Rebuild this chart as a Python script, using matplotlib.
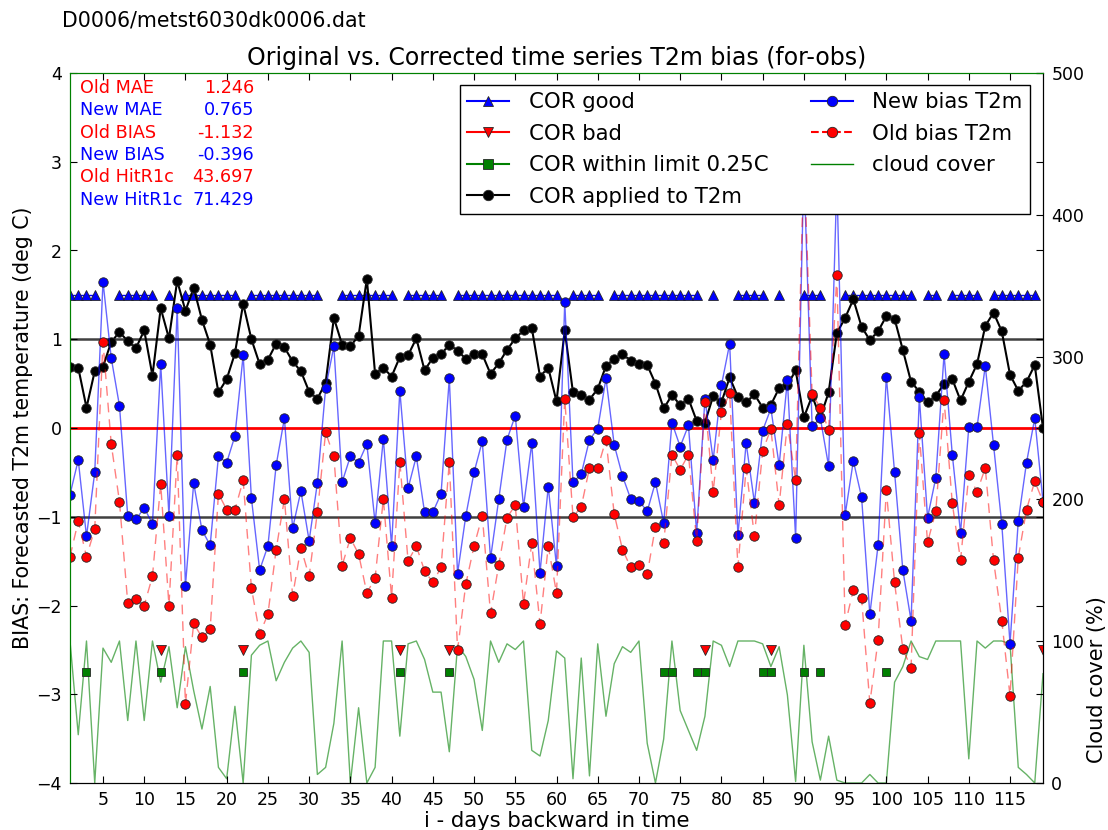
import numpy as np
import matplotlib
matplotlib.use('Agg')
import matplotlib.pyplot as plt
from matplotlib.lines import Line2D

# ---------------- data ----------------
days = list(range(1, 120))

cor_applied = [0.69, 0.68, 0.23, 0.64, 0.69, 0.97, 1.08, 0.98, 0.90, 1.10,
               0.59, 1.35, 1.01, 1.66, 1.32, 1.58, 1.22, 0.94, 0.40, 0.55,
               0.84, 1.40, 1.00, 0.72, 0.77, 0.95, 0.91, 0.75, 0.64, 0.41,
               0.33, 0.51, 1.24, 0.94, 0.92, 1.04, 1.68, 0.61, 0.68, 0.58,
               0.80, 0.82, 1.01, 0.65, 0.79, 0.83, 0.94, 0.87, 0.78, 0.83,
               0.83, 0.61, 0.73, 0.88, 1.01, 1.10, 1.13, 0.58, 0.68, 0.30,
               1.10, 0.40, 0.37, 0.32, 0.44, 0.70, 0.78, 0.83, 0.76, 0.72,
               0.71, 0.50, 0.22, 0.37, 0.26, 0.33, 0.08, 0.06, 0.36, 0.29,
               0.57, 0.35, 0.29, 0.38, 0.23, 0.26, 0.45, 0.48, 0.65, 0.12,
               0.36, 0.12, 0.40, 1.07, 1.24, 1.45, 1.14, 0.99, 1.09, 1.26,
               1.23, 0.88, 0.52, 0.41, 0.29, 0.36, 0.50, 0.55, 0.31, 0.52,
               0.72, 1.15, 1.30, 1.09, 0.60, 0.42, 0.52, 0.71, 0.00]

new_bias = [-0.75, -0.36, -1.22, -0.50, 1.65, 0.79, 0.25, -0.99, -1.03, -0.90,
            -1.08, 0.72, -0.99, 1.35, -1.78, -0.62, -1.15, -1.32, -0.32, -0.39,
            -0.09, 0.82, -0.79, -1.60, -1.33, -0.42, 0.11, -1.13, -0.71, -1.27,
            -0.62, 0.45, 0.92, -0.61, -0.32, -0.39, -0.18, -1.07, -0.12, -1.33,
            0.42, -0.68, -0.32, -0.95, -0.95, -0.74, 0.56, -1.64, -0.99, -0.50,
            -0.15, -1.47, -0.80, -0.13, 0.14, -0.89, -0.17, -1.63, -0.66, -1.56,
            1.42, -0.61, -0.52, -0.13, -0.01, 0.56, -0.19, -0.54, -0.80, -0.82,
            -0.94, -0.61, -1.07, 0.06, -0.21, 0.03, -1.18, 0.33, -0.36, 0.48,
            0.95, -1.21, -0.17, -0.84, -0.03, 0.22, -0.42, 0.54, -1.24, 2.95,
            0.02, 0.11, -0.43, 2.79, -0.98, -0.37, -0.78, -2.10, -1.32, 0.58,
            -0.50, -1.60, -2.17, 0.35, -1.01, -0.56, 0.83, -0.30, -1.18, 0.01,
            0.01, 0.70, -0.19, -1.08, -2.43, -1.05, -0.39, 0.11, -0.83]

old_bias = [-1.45, -1.05, -1.45, -1.14, 0.97, -0.18, -0.83, -1.97, -1.93, -2.00,
            -1.67, -0.63, -2.00, -0.30, -3.11, -2.20, -2.36, -2.27, -0.74, -0.92,
            -0.92, -0.59, -1.80, -2.32, -2.10, -1.37, -0.80, -1.89, -1.35, -1.67,
            -0.95, -0.05, -0.32, -1.55, -1.24, -1.42, -1.86, -1.69, -0.80, -1.91,
            -0.38, -1.50, -1.33, -1.61, -1.74, -1.57, -0.38, -2.50, -1.76, -1.33,
            -0.99, -2.09, -1.54, -1.01, -0.87, -1.98, -1.30, -2.21, -1.33, -1.86,
            0.33, -1.00, -0.89, -0.45, -0.45, -0.13, -0.97, -1.37, -1.57, -1.54,
            -1.65, -1.11, -1.30, -0.30, -0.47, -0.30, -1.27, 0.29, -0.72, 0.18,
            0.39, -1.57, -0.45, -1.22, -0.26, -0.01, -0.87, 0.05, -0.59, 3.07,
            0.38, 0.23, -0.02, 1.72, -2.22, -1.82, -1.92, -3.10, -2.39, -0.70,
            -1.74, -2.49, -2.70, -0.06, -1.29, -0.94, 0.32, -0.85, -1.49, -0.53,
            -0.72, -0.45, -1.49, -2.17, -3.02, -1.46, -0.92, -0.60, -0.83]

cloud_cover = [100, 34, 100, 0, 95, 85, 100, 44, 100, 44,
               100, 71, 96, 53, 96, 65, 38, 68, 11, 3,
               54, 0, 90, 97, 100, 72, 85, 95, 100, 92,
               6, 11, 42, 100, 0, 53, 0, 11, 100, 100,
               33, 98, 100, 87, 64, 64, 22, 97, 89, 73,
               37, 100, 85, 98, 94, 100, 23, 19, 44, 93,
               88, 3, 88, 5, 98, 47, 84, 96, 92, 100,
               28, 0, 31, 100, 51, 37, 23, 47, 100, 97,
               82, 100, 100, 100, 98, 82, 96, 62, 1, 97,
               29, 2, 33, 2, 0, 0, 0, 6, 0, 0,
               71, 82, 100, 89, 87, 100, 100, 100, 100, 17,
               100, 95, 100, 100, 98, 11, 6, 0, 77]

good_days = [1, 2, 3, 4, 7, 8, 9, 10, 11, 13, 15, 16, 17, 18, 19, 20, 21,
             23, 24, 25, 26, 27, 28, 29, 30, 31, 34, 35, 36, 37, 38, 39, 40,
             42, 43, 44, 45, 46, 48, 49, 50, 51, 52, 53, 54, 55, 56, 57, 58,
             59, 60, 62, 63, 64, 65, 67, 68, 69, 70, 71, 72, 73, 74, 75, 76,
             77, 79, 82, 83, 84, 85, 87, 90, 91, 92, 95, 96, 97, 98, 99, 100,
             101, 102, 103, 105, 106, 108, 109, 110, 111, 113, 114, 115, 116,
             117, 118]
bad_days = [12, 22, 41, 47, 78, 86, 119]
limit_days = [3, 12, 22, 41, 47, 73, 74, 77, 78, 85, 86, 90, 92, 100]

good_level = 1.5
bad_level = -2.5
limit_level = -2.75

stats_labels = ['Old MAE', 'New MAE', 'Old BIAS', 'New BIAS', 'Old HitR1c', 'New HitR1c']
stats_values = ['1.246', '0.765', '-1.132', '-0.396', '43.697', '71.429']
stats_colors = ['red', 'blue', 'red', 'blue', 'red', 'blue']

file_label = 'D0006/metst6030dk0006.dat'
title = 'Original vs. Corrected time series T2m bias (for-obs)'
xlabel = 'i - days backward in time'
ylabel = 'BIAS: Forecasted T2m temperature (deg C)'
ylabel2 = 'Cloud cover (%)'

# ---------------- plotting ----------------
plt.rcParams['font.family'] = ['DejaVu Sans']
W, H = 1108, 830
fig = plt.figure(figsize=(W / 100, H / 100), dpi=100)
L, R, T, B = 70, 1043, 73, 783
ax = fig.add_axes([L / W, 1 - B / H, (R - L) / W, (B - T) / H])
ax2 = ax.twinx()
ax.set_zorder(ax2.get_zorder() + 1)
ax.patch.set_visible(False)

x = np.array(days)


def flag_series(sel, level):
    s = set(sel)
    return np.array([level if d in s else np.nan for d in days])


ax.axhline(0, color='red', lw=2, zorder=1)
ax.axhline(1, color='0.25', lw=1.8, zorder=1)
ax.axhline(-1, color='0.25', lw=1.8, zorder=1)

mk = dict(markeredgecolor='0.15', markeredgewidth=0.6)
ax.plot(x, flag_series(good_days, good_level), color='blue', marker='^',
        ms=7, ls='-', lw=1, **mk)
ax.plot(x, flag_series(bad_days, bad_level), color='red', marker='v',
        ms=7, ls='-', lw=1, **mk)
ax.plot(x, flag_series(limit_days, limit_level), color=(0, 0.5, 0), marker='s',
        ms=6.3, ls='-', lw=1, **mk)
ax.plot(x, cor_applied, color='black', marker='o', ms=6.8, lw=1.5, **mk)

ax.plot(x, new_bias, color='blue', lw=1, alpha=0.6)
ax.plot(x, new_bias, ls='none', color='blue', marker='o', ms=6.8, **mk)
ax.plot(x, old_bias, color='red', lw=1, alpha=0.5, ls=(0, (7, 5)))
ax.plot(x, old_bias, ls='none', color='red', marker='o', ms=6.8, **mk)

ax2.plot(x, cloud_cover, color=(0, 0.5, 0), lw=1, alpha=0.6)

ax.set_xlim(1, 119)
ax.set_ylim(-4, 4)
ax2.set_ylim(0, 500)
ax.set_xticks(range(5, 116, 5))
ax.set_yticks(range(-4, 5))
ax2.set_yticks(range(0, 501, 100))

for a in (ax, ax2):
    a.tick_params(direction='in', length=5, width=0.8, labelsize=12.5)
ax.tick_params(top=True, right=True, pad=6)
ax2.tick_params(pad=6)

for a in (ax, ax2):
    for side in ('left', 'top'):
        a.spines[side].set_color((0, 0.5, 0))
    for side in ('right', 'bottom'):
        a.spines[side].set_color('black')

ax.set_xlabel(xlabel, fontsize=15.2, labelpad=1)
ax.set_ylabel(ylabel, fontsize=14.8, labelpad=2)
ax2.set_ylabel(ylabel2, fontsize=15)
ax2.yaxis.set_label_coords((1087 - L) / (R - L), (B - 680) / (B - T))
ax.set_title(title, fontsize=17, pad=6)

fig.text(62 / W, 1 - 20 / H, file_label, fontsize=14.8, ha='left', va='center')

for i, (lab, val, col) in enumerate(zip(stats_labels, stats_values, stats_colors)):
    yy = 1 - (88 + i * 22.3) / H
    fig.text(80 / W, yy, lab, color=col, fontsize=12.7, ha='left', va='center')
    fig.text(254 / W, yy, val, color=col, fontsize=12.7, ha='right', va='center')

h_new = Line2D([], [], color='blue', marker='o', ms=7.5, ls='-', **mk)
h_old = Line2D([], [], color='red', marker='o', ms=7.5, ls='--', **mk)
h_cloud = Line2D([], [], color=(0, 0.5, 0), lw=1)
h_good = Line2D([], [], color='blue', marker='^', ms=7.5, ls='-', **mk)
h_bad = Line2D([], [], color='red', marker='v', ms=7.5, ls='-', **mk)
h_lim = Line2D([], [], color=(0, 0.5, 0), marker='s', ms=7, ls='-', **mk)
h_cor = Line2D([], [], color='black', marker='o', ms=7.5, ls='-', lw=1.5, **mk)
handles = [h_good, h_bad, h_lim, h_cor, h_new, h_old, h_cloud]
labels = ['COR good', 'COR bad', 'COR within limit 0.25C', 'COR applied to T2m',
          'New bias T2m', 'Old bias T2m', 'cloud cover']
leg = ax.legend(handles, labels, ncol=2, loc='upper right',
                bbox_to_anchor=((1030 - L) / (R - L), (B - 85) / (B - T)),
                borderaxespad=0, fontsize=15.3, numpoints=1, fancybox=False,
                framealpha=1, edgecolor='black', labelspacing=0.54,
                handlelength=2.0, handletextpad=0.9, columnspacing=2.0,
                borderpad=0.35)
leg.get_frame().set_linewidth(1.0)
leg.set_zorder(10)

fig.savefig('out.png', dpi=100)
